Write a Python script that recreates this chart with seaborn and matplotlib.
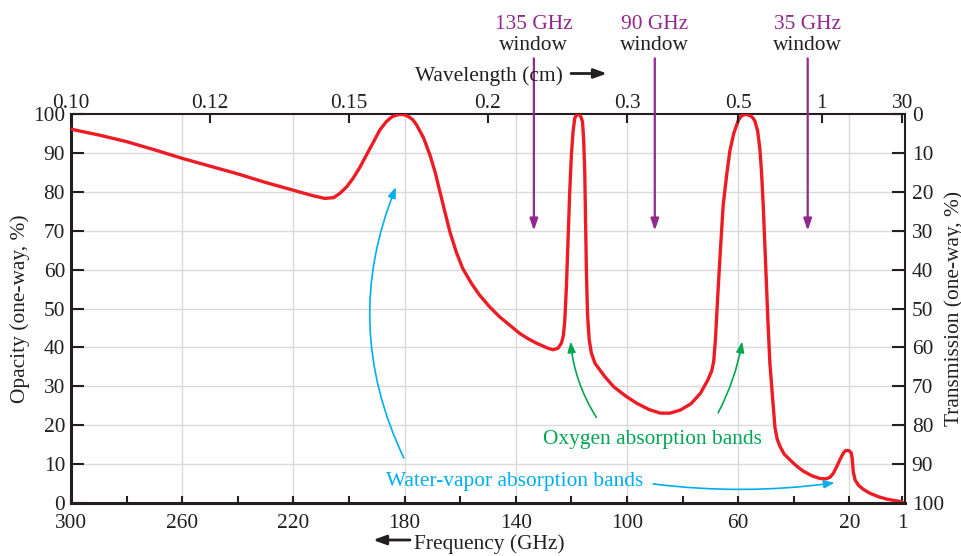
import matplotlib
matplotlib.use('Agg')
import pandas as pd
import matplotlib.pyplot as plt
import seaborn as sns

# ---------------------- Data ---------------------- #

# atmospheric opacity curve (frequency in GHz, opacity in %)
freq_ghz = [300, 290, 280, 270, 260, 250, 240, 230, 220, 213, 208.7, 205.5, 203.3,
            200.8, 198.5, 196, 193.7, 191.2, 188.9, 186.5, 184.5, 183, 181.7, 180,
            178.5, 177, 175.7,
            173.2, 170.9, 169, 167.3, 165.5, 163.7, 161.4, 159.1, 156, 153.1, 149.5,
            145.9, 142, 138.6, 135.5, 132.6, 128.5, 126.6, 124.8, 123.6, 122.9, 122.4,
            121.8, 121.2, 120.6, 120, 119.4, 118.8, 118.2, 117.6, 117, 116.6, 116, 115.6,
            115.2, 114.9, 114.6, 114.2, 113.6, 112.8, 111.5, 108, 104.8, 100.5, 96.4, 92,
            88, 84.5, 80.8, 77, 73.6, 71, 69.5, 68.8, 68.2, 67.7, 67.2, 66.4, 65.4, 64.2,
            63, 61.6, 60, 59.2, 58.5, 57, 55.5, 54.7, 54, 53, 52.2, 51.6, 51, 50.4, 49.8,
            49.2, 48.6, 47.9, 47.4, 46.8, 46, 45, 43.5, 41.4, 39, 36.6, 33.5, 30.6, 28.5,
            27, 25.8, 24.6, 23.3, 22.2, 21.5, 20.8, 20, 19.3, 19, 18.6, 18, 16.8, 15,
            12.6, 9.5, 6.6, 3.5, 1]
opacity_pct = [96.1, 94.6, 92.9, 90.8, 88.6, 86.6, 84.6, 82.4, 80.4, 79.0, 78.3, 78.5, 79.6,
               81.3, 83.5, 86.4, 89.5, 92.8, 95.9, 98.1, 99.3, 99.7, 99.9, 99.8,
               99.3, 98.5, 97.2,
               93.9, 89.5, 85.0, 80.0, 74.8, 69.7, 64.5, 60.3, 56.5, 53.5, 50.5,
               47.9, 45.6, 43.6, 42.2, 41.1, 39.8, 39.4, 39.8, 41.1, 43.0, 46.6,
               55.5, 68.1, 80.0, 89.5, 95.5, 98.9, 99.7, 99.9, 99.7, 99.3, 98.0, 93.5,
               85.2, 73.0, 59.5, 48.5, 42.0, 38.5, 35.9, 32.5, 29.9, 27.5, 25.6, 24.0,
               23.1, 23.1, 23.9, 25.5, 28.2, 31.5, 34.0, 36.5, 41.9, 48.5, 55.2, 65.0, 76.6,
               84.0, 90.5, 95.0, 98.3, 99.2, 99.7, 99.9, 99.5, 99.0, 98.2, 95.6, 91.0, 85.0,
               76.6, 66.0, 55.2, 45.0, 35.9, 29.5, 25.0, 19.5, 16.5, 14.6, 12.6, 11.1, 9.5,
               8.2, 7.0, 6.3, 6.2, 6.6, 7.6, 9.3, 11.3, 12.8, 13.4, 13.5, 13.4, 12.8, 11.5,
               8.0, 6.0, 4.6, 3.5, 2.5, 1.6, 1.0, 0.6, 0.3]

freq_ticks = [300, 260, 220, 180, 140, 100, 60, 20, 1]
freq_labels = ['300', '260', '220', '180', '140', '100', '60', '20', '1']
freq_minor = [280, 240, 200, 160, 120, 80, 40]
grid_freqs = [260, 220, 180, 140, 100, 60, 20]
opacity_ticks = [0, 10, 20, 30, 40, 50, 60, 70, 80, 90, 100]

wavelength_cm = [0.10, 0.12, 0.15, 0.2, 0.3, 0.5, 1, 30]
wavelength_labels = ['0.10', '0.12', '0.15', '0.2', '0.3', '0.5', '1', '30']

window_freqs = [133.5, 90, 35]
window_labels = ['135 GHz', '90 GHz', '35 GHz']
window_tip = 70

# ---------------------- Style ---------------------- #

RED = '#ED1C24'
BLUE = '#00AEEF'
GREEN = '#00A651'
PURPLE = '#92278F'
INK = '#231F20'
GRID = '#DADADA'
FS = 15.4

sns.set_theme(style='white')
plt.rcParams['font.family'] = ['Liberation Serif', 'DejaVu Serif']
plt.rcParams['text.color'] = INK

W, H = 962, 556
fig = plt.figure(figsize=(W / 100, H / 100), dpi=100)
ax = fig.add_axes([71 / W, 53 / H, 834 / W, 389 / H])

# ---------------------- Curve + grid ---------------------- #

df = pd.DataFrame({'freq': freq_ghz, 'opacity': opacity_pct})
sns.lineplot(data=df, x='freq', y='opacity', color=RED, linewidth=2.4,
             estimator=None, sort=False, ax=ax, zorder=3)
ax.lines[-1].set_solid_joinstyle('round')
ax.lines[-1].set_solid_capstyle('round')

for f in grid_freqs:
    ax.axvline(f, color=GRID, lw=1.0, zorder=0)
for v in opacity_ticks[1:-1]:
    ax.axhline(v, color=GRID, lw=1.0, zorder=0)

ax.set_xlim(300, 0)
ax.set_ylim(0, 100)
ax.set_xticks(freq_ticks, freq_labels)
ax.set_xticks(freq_minor, minor=True)
ax.set_yticks(opacity_ticks)
ax.set_xlabel('')
ax.set_ylabel('Opacity (one-way, %)', fontsize=FS, color=INK)
ax.yaxis.set_label_coords(-0.049, 0.5)
ax.tick_params(axis='x', which='both', direction='in', length=5, width=1.5,
               pad=8, labelsize=FS, colors=INK)
ax.tick_params(axis='y', direction='in', length=9.5, width=1.5, pad=4.3,
               labelsize=FS, colors=INK)
for side, s in ax.spines.items():
    s.set_color(INK)
    s.set_linewidth(2.2 if side in ('left', 'bottom') else 1.5)

# right axis: transmission
ax_r = ax.twinx()
ax_r.set_ylim(100, 0)
ax_r.set_yticks(opacity_ticks)
ax_r.set_ylabel('Transmission (one-way, %)', fontsize=FS, color=INK)
ax_r.yaxis.set_label_coords(1.047, 0.5)
ax_r.tick_params(axis='y', direction='in', length=9.5, width=1.5, pad=4.8,
                 labelsize=FS, colors=INK)

# top axis: wavelength
ax_t = ax.twiny()
ax_t.set_xlim(300, 0)
ax_t.set_xticks([30 / w for w in wavelength_cm], wavelength_labels)
ax_t.tick_params(axis='x', direction='in', length=6.5, width=1.5, pad=1,
                 labelsize=FS, colors=INK)
for a in (ax_r, ax_t):
    for s in a.spines.values():
        s.set_visible(False)

# ---------------------- Annotations ---------------------- #

def arrow(a, start, end, color, lw, rad=0.0, hl=0.45, hw=0.17, **kw):
    a.annotate('', xy=end, xytext=start, annotation_clip=False,
               arrowprops=dict(arrowstyle=f'-|>,head_length={hl},head_width={hw}',
                               color=color, lw=lw, shrinkA=0, shrinkB=0,
                               mutation_scale=14,
                               connectionstyle=f'arc3,rad={rad}'), **kw)

for f, lab in zip(window_freqs, window_labels):
    ax.annotate('', xy=(f, window_tip), xytext=(f, 1.143),
                textcoords=('data', 'axes fraction'), annotation_clip=False,
                arrowprops=dict(arrowstyle='-|>,head_length=0.5,head_width=0.17',
                                color=PURPLE, lw=1.6, shrinkA=0, shrinkB=0,
                                mutation_scale=14), zorder=6)
    ax.text(f, 1.2177, lab, transform=ax.get_xaxis_transform(), ha='center',
            va='baseline', color=PURPLE, fontsize=FS)
    ax.text(f, 1.1645, 'window', transform=ax.get_xaxis_transform(), ha='center',
            va='baseline', color=INK, fontsize=FS)

# water vapour
arrow(ax, (180.3, 11.6), (183.1, 81.2), BLUE, 1.2, rad=-0.22)
arrow(ax, (90.6, 4.9), (25.3, 5.2), BLUE, 1.2, rad=0.066)
ax.text(186.7, 4.4, 'Water-vapor absorption bands', color=BLUE, fontsize=FS,
        ha='left', va='baseline')

# oxygen
arrow(ax, (111.0, 22.0), (120.3, 41.5), GREEN, 1.2, rad=-0.12)
arrow(ax, (67.2, 23.2), (58.6, 41.5), GREEN, 1.2, rad=0.08)
ax.text(90.7, 15.1, 'Oxygen absorption bands', color=GREEN, fontsize=FS,
        ha='center', va='baseline')

# axis captions with direction arrows
fig.text(415 / W, 1 - 80.7 / H, 'Wavelength (cm)', ha='left', va='baseline',
         fontsize=FS, color=INK)
arrow(ax, (571, H - 73.5), (607, H - 73.5), INK, 2.0, hl=0.55, hw=0.2,
      xycoords='figure pixels')
fig.text(414 / W, 1 - 549.5 / H, 'Frequency (GHz)', ha='left', va='baseline',
         fontsize=FS, color=INK)
arrow(ax, (410, H - 540), (373, H - 540), INK, 2.0, hl=0.55, hw=0.2,
      xycoords='figure pixels')

fig.savefig('out.png', dpi=100)
